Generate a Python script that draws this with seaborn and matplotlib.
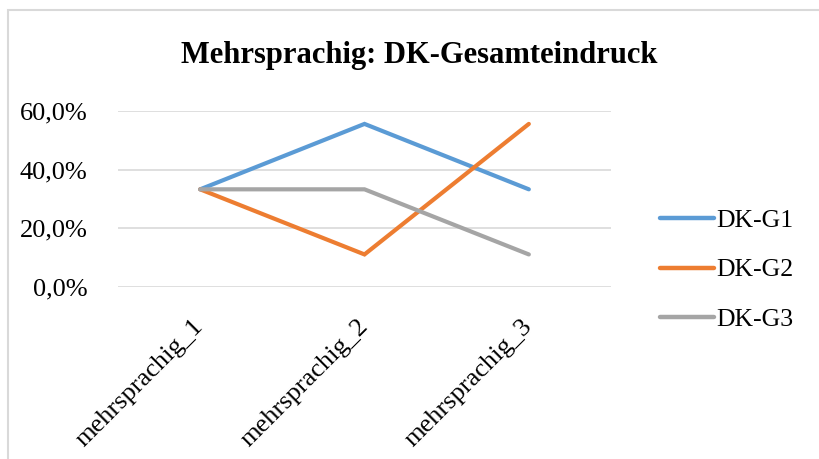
import matplotlib
matplotlib.use("Agg")
import matplotlib.pyplot as plt
from matplotlib.patches import Rectangle
from matplotlib.ticker import FuncFormatter
import seaborn as sns
import pandas as pd

# Kategorien und Anteile (in Prozent) je Gruppe
categories = ["mehrsprachig_1", "mehrsprachig_2", "mehrsprachig_3"]
dk_g1 = [33.3, 55.6, 33.3]
dk_g2 = [33.3, 11.1, 55.6]
dk_g3 = [33.3, 33.3, 11.1]
series_names = ["DK-G1", "DK-G2", "DK-G3"]
y_ticks = [0, 20, 40, 60]
title = "Mehrsprachig: DK-Gesamteindruck"

df = pd.DataFrame({
    "Kategorie": categories * 3,
    "Anteil": dk_g1 + dk_g2 + dk_g3,
    "Gruppe": [n for n in series_names for _ in categories],
})

sns.set_theme(style="white")
plt.rcParams["font.family"] = ["Liberation Serif", "DejaVu Serif"]
plt.rcParams["text.color"] = "black"

W, H = 820, 459
fig = plt.figure(figsize=(W / 100, H / 100), dpi=100)
ax = fig.add_axes([118 / W, (H - 287) / H, (611 - 118) / W, (287 - 111) / H])

palette = {"DK-G1": "#5B9BD5", "DK-G2": "#ED7D31", "DK-G3": "#A5A5A5"}
sns.lineplot(data=df, x="Kategorie", y="Anteil", hue="Gruppe", palette=palette,
             sort=False, linewidth=3.0, ax=ax, legend=True,
             solid_capstyle="round", solid_joinstyle="miter")

ax.set_xlim(-0.5, 2.5)
ax.set_ylim(0, 60)
ax.set_yticks(y_ticks)
ax.yaxis.set_major_formatter(FuncFormatter(lambda v, _: f"{v:.1f}%".replace(".", ",")))
ax.grid(axis="y", color="#D9D9D9", linewidth=1.2)
ax.grid(axis="x", visible=False)
ax.set_axisbelow(True)
for s in ax.spines.values():
    s.set_visible(False)
ax.set_xlabel("")
ax.set_ylabel("")
ax.tick_params(axis="both", length=0, labelsize=19, colors="black")
ax.tick_params(axis="y", pad=22)
ax.tick_params(axis="x", pad=26)
for lbl in ax.get_xticklabels():
    lbl.set_rotation(45)
    lbl.set_ha("right")
    lbl.set_rotation_mode("anchor")
    lbl.set_va("center")

handles, labels = ax.get_legend_handles_labels()
leg = ax.legend(handles, labels, loc="center left", bbox_to_anchor=(647 / W, (H - 270) / H),
                bbox_transform=fig.transFigure, frameon=False, fontsize=18.5,
                handlelength=2.1, handletextpad=0.08, labelspacing=1.03, borderpad=0)
for line in leg.get_lines():
    line.set_linewidth(3.2)
    line.set_solid_capstyle("round")
for t in leg.get_texts():
    t.set_color("black")

fig.text(419.5 / W, (H - 55) / H, title, ha="center", va="center",
         fontsize=22, fontweight="bold", color="black")

# Rahmen des Diagrammbereichs
fig.patches.append(Rectangle((8 / W, -0.5), 2.0, 0.5 + (H - 10) / H,
                             transform=fig.transFigure, fill=False,
                             edgecolor="#D9D9D9", linewidth=1.5))

fig.savefig("out.png", dpi=100)
